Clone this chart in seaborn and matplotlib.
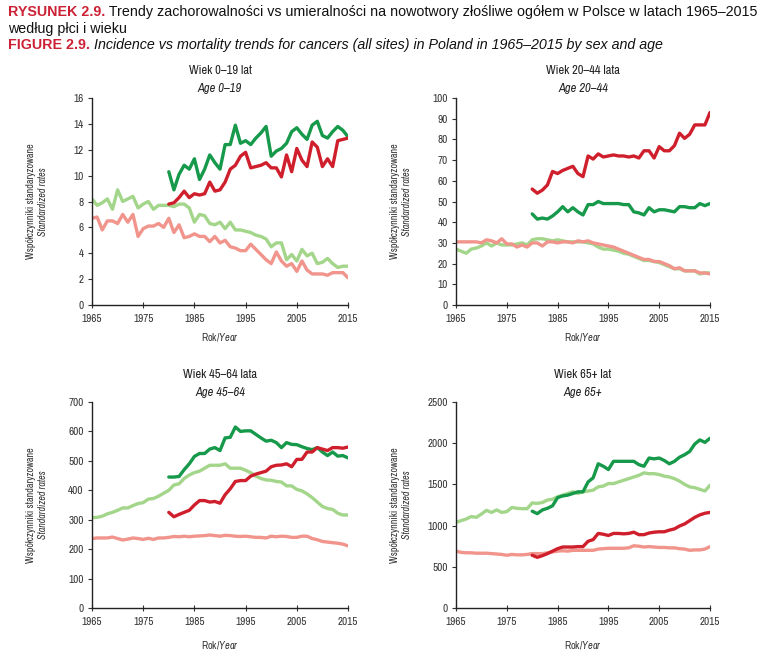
import numpy as np
import pandas as pd
import matplotlib
matplotlib.use('agg')
import matplotlib.pyplot as plt
from matplotlib import font_manager
import seaborn as sns

# years
years_all = list(range(1965, 2016))
years_inc = list(range(1980, 2016))

# ---- Age 0-19 ----
a1_inc_m = [10.3, 8.9, 10.1, 10.8, 10.5, 11.3, 9.7, 10.5, 11.6, 11.0, 10.5, 12.4, 12.4, 13.9, 12.5, 12.7,
            12.4, 12.9, 13.3, 13.8, 11.5, 11.9, 12.1, 12.5, 13.4, 13.7, 13.2, 12.8, 13.9, 14.2, 13.1, 12.9,
            13.4, 13.8, 13.5, 13.0]
a1_inc_f = [7.8, 7.9, 8.3, 8.8, 8.3, 8.6, 8.5, 8.6, 9.5, 8.8, 8.9, 9.5, 10.5, 10.8, 11.5, 11.8,
            10.6, 10.7, 10.8, 11.0, 10.6, 10.6, 9.9, 11.6, 10.3, 12.1, 11.2, 10.7, 12.6, 12.2, 10.7, 11.3,
            10.7, 12.7, 12.8, 12.9]
a1_mort_m = [8.2, 7.7, 7.9, 8.2, 7.4, 8.9, 8.0, 8.2, 8.4, 7.5, 7.8, 8.0, 7.4, 7.7, 7.7, 7.7, 7.6, 7.8,
             7.8, 7.5, 6.4, 7.0, 6.9, 6.3, 6.2, 6.4, 5.9, 6.4, 5.8, 5.8, 5.7, 5.6, 5.4, 5.3, 5.1, 4.5,
             4.8, 4.8, 3.5, 3.9, 3.4, 4.3, 3.8, 4.0, 3.2, 3.3, 3.6, 3.2, 2.9, 3.0, 3.0]
a1_mort_f = [6.7, 6.8, 5.8, 6.5, 6.5, 6.3, 7.0, 6.4, 7.0, 5.3, 5.9, 6.1, 6.1, 6.3, 6.0, 6.7, 5.6, 6.2,
             5.2, 5.3, 5.5, 5.3, 5.3, 4.9, 5.3, 4.8, 5.0, 4.5, 4.4, 4.2, 4.2, 4.7, 4.3, 3.9, 3.5, 3.2,
             4.1, 3.4, 3.0, 3.2, 2.6, 3.4, 2.7, 2.4, 2.4, 2.4, 2.3, 2.5, 2.5, 2.5, 2.1]

# ---- Age 20-44 ----
a2_inc_m = [44, 41.5, 42, 41.5, 43, 45, 47.5, 45, 47, 45, 43.5, 48.5, 48.5, 50, 49, 49, 49, 49, 48.5,
            48.5, 45, 44.5, 43.5, 47, 45, 46, 46, 45.5, 45, 47.5, 47.5, 47, 47, 49, 48, 49]
a2_inc_f = [56, 54, 55.5, 58, 64.5, 63.5, 65, 66, 67, 63.5, 62, 72, 70.5, 73, 71.5, 72, 72.5, 72, 72,
            71.5, 72, 71, 74.5, 74.5, 71, 76.5, 74.5, 74.5, 77, 83, 80.5, 82.5, 87, 87, 87, 93]
a2_mort_m = [27, 26, 25, 27, 27.5, 28.5, 30, 28.5, 30, 29, 29, 29, 29.5, 30, 29, 31.5, 32, 32, 31.5,
             31, 31.5, 31, 30.5, 30.5, 30.5, 30.5, 30, 29.5, 28, 27, 27, 26.5, 26, 25, 24.5, 23.5,
             22.5, 21.5, 21.5, 21, 20.5, 19.5, 18.5, 17.5, 17.5, 16.5, 16.5, 16.5, 15, 15.5, 15.5]
a2_mort_f = [30.5, 30.5, 30.5, 30.5, 30.5, 30, 31.5, 31, 30, 32, 29.5, 29.5, 28, 29, 28, 30, 30, 28.5,
             30.5, 30.5, 30, 30.5, 30.5, 30, 31, 30.5, 31, 30, 29.5, 29, 28.5, 28, 27, 26, 25, 24,
             23, 22, 22, 21, 21, 20, 19, 17.5, 18, 16.5, 16.5, 16.5, 15.5, 15.5, 15]

# ---- Age 45-64 ----
a3_inc_m = [445, 445, 447, 470, 490, 515, 525, 525, 540, 545, 535, 578, 580, 615, 600, 602, 602, 590,
            578, 567, 570, 562, 545, 562, 556, 555, 548, 542, 538, 545, 530, 518, 530, 516, 518, 510]
a3_inc_f = [325, 310, 318, 325, 332, 350, 365, 365, 360, 362, 356, 385, 405, 430, 433, 433, 448, 455,
            460, 465, 480, 485, 486, 490, 480, 505, 505, 530, 530, 545, 540, 535, 545, 545, 543, 547]
a3_mort_m = [307, 308, 312, 320, 325, 332, 340, 340, 348, 355, 358, 370, 372, 380, 390, 400, 418, 422,
             440, 452, 460, 465, 475, 485, 485, 485, 490, 475, 475, 475, 468, 460, 448, 440, 435, 434,
             430, 428, 415, 415, 403, 398, 388, 375, 360, 345, 338, 335, 322, 316, 316]
a3_mort_f = [236, 238, 238, 238, 241, 236, 231, 234, 238, 236, 233, 237, 233, 238, 238, 240, 243, 242,
             244, 242, 244, 245, 246, 248, 246, 244, 247, 246, 244, 243, 244, 242, 240, 240, 238, 244,
             242, 244, 243, 240, 240, 244, 244, 236, 232, 226, 224, 222, 220, 217, 211]

# ---- Age 65+ ----
a4_inc_m = [1175, 1145, 1190, 1210, 1240, 1340, 1360, 1370, 1390, 1410, 1410, 1530, 1580, 1750, 1720,
            1680, 1780, 1780, 1780, 1780, 1780, 1740, 1720, 1820, 1810, 1820, 1790, 1750, 1780, 1830,
            1860, 1900, 1990, 2040, 2010, 2060]
a4_inc_f = [640, 615, 635, 660, 690, 720, 740, 740, 740, 745, 745, 810, 830, 905, 895, 880, 905, 905,
            900, 905, 920, 890, 890, 910, 920, 925, 925, 945, 960, 995, 1020, 1060, 1100, 1130, 1150, 1160]
a4_mort_m = [1040, 1060, 1080, 1110, 1100, 1140, 1185, 1160, 1190, 1160, 1170, 1220, 1210, 1205, 1205,
             1275, 1270, 1280, 1310, 1320, 1350, 1370, 1390, 1410, 1390, 1410, 1420, 1430, 1470, 1480,
             1510, 1510, 1530, 1550, 1570, 1590, 1610, 1640, 1630, 1630, 1620, 1600, 1590, 1570, 1540,
             1500, 1470, 1460, 1440, 1420, 1490]
a4_mort_f = [690, 675, 670, 670, 665, 665, 665, 660, 655, 650, 640, 650, 645, 645, 650, 660, 660, 660,
             670, 680, 690, 695, 690, 700, 700, 700, 700, 700, 715, 720, 725, 725, 725, 725, 730, 755,
             750, 740, 745, 740, 735, 735, 730, 730, 720, 715, 700, 705, 705, 715, 745]

panel_pl = ["Wiek 0–19 lat", "Wiek 20–44 lata", "Wiek 45–64 lata", "Wiek 65+ lat"]
panel_en = ["Age 0–19", "Age 20–44", "Age 45–64", "Age 65+"]
y_max = [16, 100, 700, 2500]
y_step = [2, 10, 100, 500]

series_names = ["inc_m", "inc_f", "mort_m", "mort_f"]
colors = {"inc_m": "#16994a", "inc_f": "#d01f2c", "mort_m": "#a3d68a", "mort_f": "#f0948c"}

panels = [(a1_inc_m, a1_inc_f, a1_mort_m, a1_mort_f),
          (a2_inc_m, a2_inc_f, a2_mort_m, a2_mort_f),
          (a3_inc_m, a3_inc_f, a3_mort_m, a3_mort_f),
          (a4_inc_m, a4_inc_f, a4_mort_m, a4_mort_f)]

# prefer a condensed family for the chart texts (the original uses a narrow face)
installed = sorted({f.name for f in font_manager.fontManager.ttflist})
if "Liberation Sans Narrow" in installed:
    narrow_family = "Liberation Sans Narrow"
else:
    cands = [n for n in installed if "Narrow" in n or "Condensed" in n]
    narrow_family = cands[0] if cands else "Liberation Sans"
head_family = "Liberation Sans" if "Liberation Sans" in installed else "DejaVu Sans"

sns.set_style("ticks")
plt.rcParams['font.family'] = [narrow_family, 'DejaVu Sans']
# mathtext in the same face, so "Rok/Year" can be one text with an italic part
plt.rcParams['mathtext.fontset'] = 'custom'
plt.rcParams['mathtext.rm'] = narrow_family
plt.rcParams['mathtext.it'] = narrow_family + ':italic'

W, H = 768, 668
fig = plt.figure(figsize=(W / 100, H / 100), dpi=100)
renderer = fig.canvas.get_renderer()


def put_pieces(x_px, y_px, pieces, size):
    # place texts of mixed style one after another on a line
    x = x_px
    made = []
    for txt, kw in pieces:
        t = fig.text(x / W, 1 - y_px / H, txt, va="center", ha="left", fontsize=size, **kw)
        x += t.get_window_extent(renderer=renderer).width
        made.append(t)
    return x, made


# axes boxes in pixels: left, top, right, bottom
boxes = [(92, 98, 348, 305), (456, 98, 710, 305), (92, 402, 348, 608), (456, 402, 710, 608)]
xlab_gap = [32, 32, 37, 37]
txt_col = "#333333"

for i, (box, data) in enumerate(zip(boxes, panels)):
    l, t, r, b = box
    ax = fig.add_axes([l / W, 1 - b / H, (r - l) / W, (b - t) / H])
    rows = []
    for name, vals in zip(series_names, data):
        yrs = years_inc if name.startswith("inc") else years_all
        rows.append(pd.DataFrame({"year": yrs, "rate": vals, "series": name}))
    df = pd.concat(rows, ignore_index=True)
    # mortality underneath, incidence on top
    sns.lineplot(data=df, x="year", y="rate", hue="series", palette=colors, linewidth=2.4,
                 legend=False, ax=ax, hue_order=["mort_m", "mort_f", "inc_m", "inc_f"])
    ax.set_xlim(1965, 2015)
    ax.set_ylim(0, y_max[i])
    ax.set_xticks(range(1965, 2016, 10))
    ax.set_yticks(np.arange(0, y_max[i] + 1, y_step[i]))
    ax.tick_params(labelsize=8, length=3, width=0.8, colors=txt_col, pad=3)
    ax.tick_params(axis="x", direction="inout", length=5, pad=4)
    for s in ["left", "bottom"]:
        ax.spines[s].set_color("#222222")
        ax.spines[s].set_linewidth(1.0)
    sns.despine(ax=ax)
    ax.set_xlabel("")
    ax.set_ylabel("")

    cx = (l + r) / 2
    fig.text(cx / W, 1 - (t - 27) / H, panel_pl[i], ha="center", va="center", fontsize=9,
             color="#222222")
    fig.text(cx / W, 1 - (t - 10) / H, panel_en[i], ha="center", va="center", fontsize=9,
             style="italic", color="#222222")
    # y label
    ym = (t + b) / 2
    fig.text((l - 61) / W, 1 - ym / H, "Współczynniki standaryzowane", rotation=90, ha="center",
             va="center", fontsize=7.2, color=txt_col)
    fig.text((l - 49) / W, 1 - ym / H, "Standardized rates", rotation=90, ha="center",
             va="center", fontsize=7.2, style="italic", color=txt_col)
    # x label: Rok/ + Year (italic)
    fig.text(cx / W, 1 - (b + xlab_gap[i]) / H, r"Rok/$\mathit{Year}$", ha="center", va="center",
             fontsize=7.5, color=txt_col)

# header, font size fitted to the width of the first line
red = "#cc2236"
hk = dict(family=[head_family, 'DejaVu Sans'])
line1 = [("RYSUNEK 2.9.", dict(color=red, weight="bold", **hk)),
         (" Trendy zachorowalności vs umieralności na nowotwory złośliwe ogółem w Polsce w latach 1965–2015",
          dict(color="#111111", **hk))]
end, made = put_pieces(8, 12, line1, 10)
for m in made:
    m.remove()
size = 10 * (757 - 8) / (end - 8)
put_pieces(8, 12, line1, size)
put_pieces(8, 29, [("według płci i wieku", dict(color="#111111", **hk))], size)
put_pieces(8, 45, [("FIGURE 2.9.", dict(color=red, weight="bold", **hk)),
                   (" Incidence vs mortality trends for cancers (all sites) in Poland in 1965–2015 by sex and age",
                    dict(color="#111111", style="italic", **hk))], size)

fig.savefig("out.png", dpi=100)
